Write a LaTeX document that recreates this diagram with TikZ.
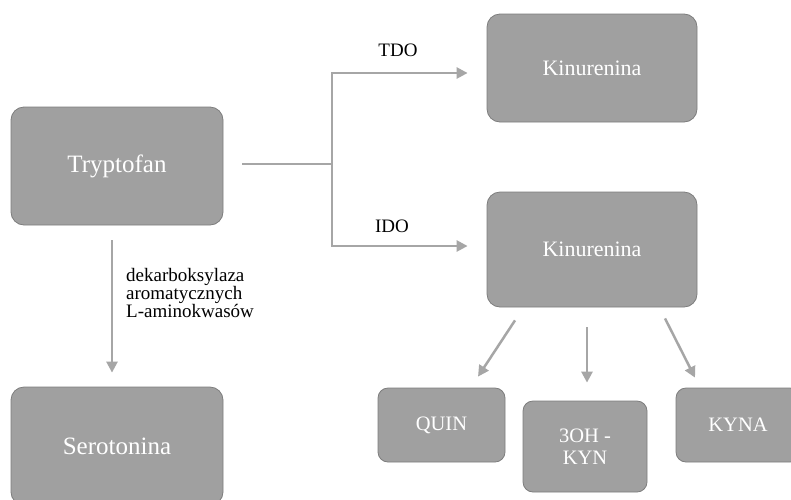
\documentclass[tikz,border=0pt]{standalone}
\usepackage{fontspec}
\setmainfont{Liberation Serif}
\usetikzlibrary{arrows.meta,calc}
\definecolor{boxfill}{RGB}{160,160,160}
\definecolor{boxline}{RGB}{125,125,125}
\definecolor{arrcol}{RGB}{166,166,166}
\tikzset{
  gbox/.style={draw=boxline, line width=0.8pt, fill=boxfill, rounded corners=13pt,
    text=white, font=\fontsize{22}{24}\selectfont, align=center, inner sep=0pt},
  bigbox/.style={gbox, font=\fontsize{25}{27}\selectfont},
  smallbox/.style={gbox, rounded corners=10pt, font=\fontsize{20.5}{22}\selectfont},
  conn/.style={draw=arrcol, line width=2.5pt},
  arr/.style={conn, -{Triangle[length=11pt,width=11pt]}},
  lbl/.style={text=black, font=\fontsize{19}{15.5}\selectfont, inner sep=0pt}
}
\begin{document}
\begin{tikzpicture}[x=1pt,y=-1pt]
\useasboundingbox (0,0) rectangle (791,499);
\clip (0,0) rectangle (791,499);
\fill[white] (0,0) rectangle (791,499);
% boxes
\node[bigbox, minimum width=212pt, minimum height=118pt] (tryp) at (117,166) {Tryptofan};
\node[bigbox, minimum width=212pt, minimum height=118pt] (sero) at (117,446) {Serotonina};
\node[gbox, minimum width=210pt, minimum height=108pt] (kin1) at (592,68) {Kinurenina};
\node[gbox, minimum width=210pt, minimum height=115pt] (kin2) at (592,249.5) {Kinurenina};
\node[smallbox, minimum width=127pt, minimum height=74pt] (quin) at (441.5,425) {QUIN};
\node[smallbox, minimum width=124pt, minimum height=91pt] (oh) at (585,446.5) {3OH -\\KYN};
\node[smallbox, minimum width=124pt, minimum height=74pt] (kyna) at (738,425) {KYNA};
% branching connector
\coordinate (j) at (332,164);
\draw[conn] ([xshift=19pt,yshift=2pt]tryp.east) -- (j);
\draw[arr, shorten >=19pt] (j) |- ([yshift=-5pt]kin1.west);
\draw[arr, shorten >=19pt] (j) |- ([yshift=3.5pt]kin2.west);
\node[lbl] (tdo) at (398,50) {TDO};
\node[lbl] (ido) at (392,226) {IDO};
% down arrow
\draw[arr] ([xshift=-5pt,yshift=-15pt]tryp.south) -- ([xshift=-5pt,yshift=14pt]sero.north);
\node[lbl, anchor=north west, align=left] (dek) at (126,268) {dekarboksylaza\\aromatycznych\\L-aminokwasów};
% bottom arrows
\draw[arr] ($(kin2.south)+(-77,13)$) -- ($(quin.north)+(36.5,-11)$);
\draw[arr] ($(kin2.south)+(-5,20)$) -- ($(oh.north)+(2,-18)$);
\draw[arr] ($(kin2.south)+(73,11)$) -- ($(kyna.north)+(-43,-10)$);
\end{tikzpicture}
\end{document}
